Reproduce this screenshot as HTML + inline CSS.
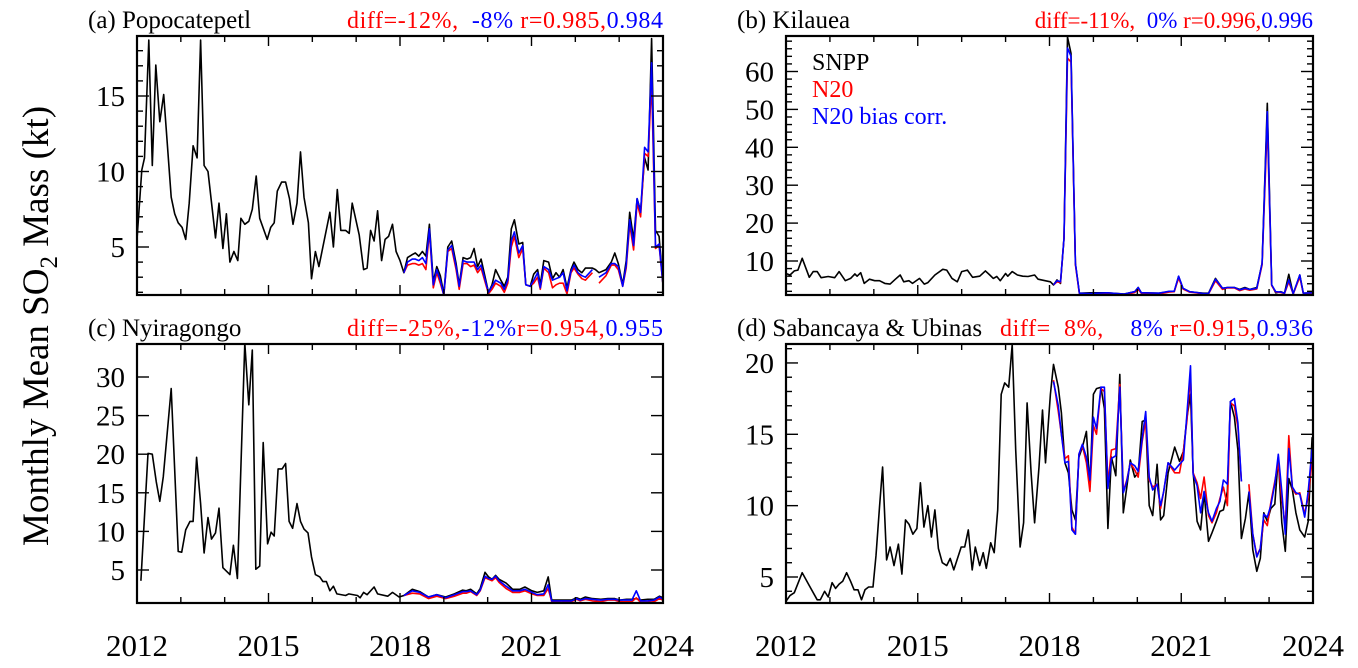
<!DOCTYPE html>
<html><head><meta charset="utf-8"><style>
body{margin:0;background:#fff}
svg{display:block}
text{font-family:"Liberation Serif",serif}
</style></head><body>
<svg id="chart" width="1358" height="668" xmlns="http://www.w3.org/2000/svg">
<text transform="translate(48,326) rotate(-90)" text-anchor="middle" font-size="37">Monthly Mean SO<tspan font-size="25" dy="9">2</tspan><tspan dy="-9"> Mass (kt)</tspan></text>
</svg>
<script>
// ---------- Panel (a) Popocatepetl ----------
const aT=[0,0.11,0.17,0.27,0.35,0.43,0.52,0.61,0.78,0.86,0.94,1.03,1.11,1.19,1.28,1.37,1.45,1.53,1.62,1.79,1.87,1.96,2.04,2.12,2.21,2.30,2.37,2.46,2.55,2.63,2.72,2.80,2.97,3.05,3.13,3.20,3.30,3.39,3.48,3.56,3.65,3.73,3.81,3.91,3.98,4.07,4.15,4.40,4.48,4.57,4.65,4.76,4.84,4.91,5.07,5.17,5.25,5.33,5.41,5.49,5.58,5.66,5.74,5.83,5.91,6.00];
const aSNPP=[5.5,10.1,10.9,18.7,10.4,17.05,13.3,15.1,8.3,7.2,6.6,6.3,5.5,7.9,11.7,10.9,18.7,10.4,10.0,5.6,7.9,4.9,7.2,4.0,4.7,4.1,6.9,6.5,6.7,7.5,9.7,6.9,5.5,6.3,6.6,8.7,9.3,9.3,8.2,6.5,7.9,11.3,8.3,6.6,2.9,4.7,3.7,7.3,5.0,8.8,6.1,6.1,5.9,7.9,5.8,3.5,3.6,6.1,5.4,7.4,4.1,5.5,5.7,6.5,4.7,4.1];
const aT2=[6.09,6.17,6.28,6.35,6.43,6.51,6.59,6.67,6.76,6.84,6.92,7.00,7.09,7.18,7.28,7.35,7.44,7.53,7.61,7.69,7.77,7.85,8.02,8.10,8.18,8.30,8.38,8.46,8.54,8.61,8.71,8.80,8.87,8.97,9.05,9.14,9.20,9.28,9.39,9.48,9.56,9.64,9.72,9.81,9.90,9.97,10.06,10.15,10.23,10.39,10.46,10.54,10.70,10.82,10.90,10.98,11.08,11.16,11.24,11.33,11.41,11.49,11.58,11.66,11.74,11.83,11.91,12.00];
const aSNPP2=[3.3,4.3,4.5,4.6,4.4,4.7,4.4,6.5,2.7,3.7,3.1,1.9,5.0,5.4,3.9,2.5,4.3,4.2,4.3,4.9,3.7,4.2,2.0,2.5,3.5,2.8,2.4,3.0,6.2,6.8,5.2,5.3,2.5,2.4,3.2,3.5,2.5,4.1,4.0,2.9,3.3,3.0,3.5,2.3,3.5,4.0,3.5,3.3,3.6,3.6,3.5,3.3,3.5,4.0,4.6,3.9,2.5,4.1,7.3,5.5,8.2,7.4,10.9,10.1,18.8,6.1,5.7,2.5];
const aN20=[3.3,3.8,3.9,3.9,3.8,3.9,3.5,6.0,2.3,3.3,2.6,1.8,4.7,4.9,3.5,2.2,3.9,3.9,3.7,3.8,3.3,3.6,1.9,2.2,2.6,2.4,2.0,2.6,5.0,5.7,4.3,4.9,2.5,2.4,2.6,3.0,2.2,3.6,3.3,2.3,2.5,2.6,2.6,1.9,3.3,3.6,3.2,2.9,2.8,3.3,null,2.6,3.1,3.8,3.8,3.5,2.4,3.6,6.5,4.8,7.9,7.0,11.2,11.0,16.0,4.9,5.1,2.5];
const aN20c=[3.3,4.0,4.2,4.2,4.1,4.3,3.9,6.2,2.5,3.5,2.8,1.8,4.8,5.1,3.7,2.4,4.1,4.0,4.0,4.0,3.5,3.8,2.0,2.4,2.8,2.6,2.2,2.8,5.4,6.0,4.6,5.1,2.5,2.4,2.8,3.3,2.3,3.7,3.5,2.8,2.9,3.0,3.3,2.1,3.4,3.8,3.3,3.1,3.0,3.5,null,3.0,3.3,3.9,3.9,3.7,2.4,3.8,6.8,5.1,8.2,7.3,11.6,11.3,17.2,5.0,5.2,2.5];
const aTicks=[5,10,15];

// ---------- Panel (b) Kilauea ----------
const bT=[0,0.09,0.19,0.27,0.37,0.53,0.62,0.71,0.80,0.96,1.11,1.21,1.35,1.47,1.57,1.62,1.70,1.78,1.90,2.02,2.13,2.25,2.37,2.49,2.60,2.68,2.80,2.88,3.04,3.15,3.23,3.39,3.57,3.66,3.78,3.90,4.00,4.13,4.25,4.41,4.54,4.64,4.72,4.80,4.88,5.00,5.05,5.15,5.27,5.39,5.51,5.66,5.74,5.90,6.02];
const bSNPP=[6.7,6.3,7.4,7.6,10.7,5.7,7.2,7.2,5.6,5.9,5.6,7.2,4.8,5.4,6.6,6.0,6.9,4.1,5.2,4.8,4.8,4.1,3.9,5.2,6.3,4.5,4.8,4.1,5.4,3.9,4.3,6.3,7.8,7.6,5.4,4.5,7.2,7.6,5.7,6.0,7.4,6.3,5.4,5.9,4.8,6.7,6.0,7.2,6.3,6.0,5.9,6.3,5.2,4.8,4.5];
const bT2=[6.09,6.17,6.25,6.33,6.41,6.49,6.59,6.68,6.92,7.31,7.70,7.94,8.02,8.09,8.49,8.72,8.84,8.94,9.04,9.19,9.35,9.51,9.62,9.78,9.94,10.05,10.21,10.33,10.45,10.56,10.72,10.84,10.96,11.06,11.15,11.27,11.35,11.45,11.55,11.70,11.78,12.00];
const bSNPP2=[3.7,5.0,4.1,16.0,69.1,64.8,9.4,1.5,1.6,1.6,1.3,1.9,3.0,1.6,1.5,1.9,1.9,5.9,2.8,1.9,1.7,1.5,1.5,5.4,2.8,3.0,3.0,2.5,3.0,2.5,3.0,9.4,51.6,3.7,1.6,1.9,1.5,6.5,1.3,6.3,1.5,1.6];
const bN20=[3.7,4.5,4.3,16.0,63.5,62.5,9.0,1.3,1.2,1.4,1.0,1.7,2.5,1.5,1.3,1.8,1.9,5.5,2.6,1.8,1.6,1.2,1.3,4.8,2.5,2.9,2.9,2.2,2.6,2.3,2.6,9.0,46.5,3.5,1.8,1.7,1.4,4.5,1.3,5.8,1.4,1.5];
const bN20c=[3.7,4.8,4.5,16.0,66.2,64.0,9.4,1.5,1.4,1.6,1.3,1.9,3.0,1.6,1.5,2.0,2.0,6.0,2.8,1.9,1.7,1.4,1.4,5.2,2.8,3.0,3.0,2.4,2.8,2.5,2.8,9.4,49.4,3.7,1.9,1.8,1.5,5.0,1.4,6.3,1.5,1.6];
const bTicks=[10,20,30,40,50,60];

// ---------- Panel (c) Nyiragongo ----------
const cT=[0.09,0.25,0.35,0.44,0.52,0.60,0.78,0.94,1.02,1.11,1.21,1.28,1.36,1.45,1.53,1.62,1.70,1.79,1.87,1.96,2.12,2.20,2.29,2.46,2.55,2.63,2.71,2.80,2.88,2.98,3.06,3.13,3.22,3.31,3.39,3.47,3.55,3.65,3.73,3.81,3.90,3.98,4.07,4.17,4.24,4.32,4.40,4.48,4.56,4.76,4.83,5.03,5.09,5.17,5.25,5.41,5.49,5.72,5.83,5.98];
const cSNPP=[3.6,20.1,20.0,16.4,13.9,17.1,28.5,7.4,7.3,10.2,11.3,11.3,19.6,13.6,7.2,11.8,9.0,9.8,13.0,5.3,4.4,8.2,3.9,34.4,26.4,33.5,5.1,5.5,21.5,8.4,9.9,9.4,18.1,18.1,18.8,11.3,10.4,13.6,11.3,10.3,9.8,6.7,4.4,4.1,3.5,3.5,2.3,2.9,1.9,1.7,1.9,1.7,1.4,2.1,1.8,2.8,1.9,1.6,2.1,1.5];
const cT2=[6.09,6.28,6.45,6.65,6.84,7.04,7.24,7.43,7.51,7.61,7.75,7.83,7.94,8.02,8.10,8.18,8.26,8.42,8.57,8.73,8.85,9.01,9.13,9.28,9.38,9.46,9.68,9.91,10.03,10.11,10.23,10.39,10.58,10.74,10.90,11.02,11.17,11.29,11.39,11.49,11.65,11.80,11.92,12.00];
const cSNPP2=[1.7,2.5,2.2,1.5,1.8,1.5,1.9,2.4,2.3,2.5,1.9,2.6,4.7,4.1,3.8,4.3,3.8,3.3,2.5,2.5,2.8,2.3,2.1,2.3,4.1,1.1,1.1,1.1,1.4,1.2,1.5,1.3,1.2,1.3,1.3,1.1,1.2,1.2,1.3,1.1,1.2,1.2,1.6,1.4];
const cN20=[1.7,2.0,1.9,1.3,1.6,1.3,1.6,2.0,2.0,2.2,1.7,2.3,4.0,3.8,3.6,4.0,3.4,2.6,2.1,2.1,2.3,1.9,1.7,1.7,2.6,0.9,0.8,0.9,1.2,1.0,1.2,1.0,0.9,1.1,1.1,0.9,0.9,0.9,1.4,0.8,0.8,0.9,1.3,1.1];
const cN20c=[1.7,2.3,2.1,1.5,1.8,1.4,1.8,2.2,2.2,2.3,1.8,2.4,4.2,3.9,3.8,4.2,3.6,2.9,2.3,2.3,2.5,2.1,1.8,1.9,3.1,1.0,1.0,1.0,1.3,1.1,1.3,1.2,1.1,1.2,1.2,1.1,1.1,1.1,2.3,1.0,1.0,1.1,1.5,1.2];
const cTicks=[5,10,15,20,25,30];

// ---------- Panel (d) Sabancaya & Ubinas ----------
const dT=[0,0.09,0.19,0.37,0.53,0.71,0.78,0.88,0.96,1.05,1.13,1.21,1.29,1.38,1.47,1.55,1.64,1.72,1.80,1.88,1.98,2.05,2.13,2.20,2.29,2.37,2.46,2.56,2.64,2.72,2.80,2.89,2.98,3.06,3.14,3.23,3.31,3.39,3.47,3.56,3.66,3.74,3.82,3.99,4.07,4.15,4.24,4.31,4.41,4.49,4.56,4.66,4.74,4.82,4.90,4.98,5.07,5.15,5.23,5.33,5.41,5.49,5.58,5.66,5.76,5.84,5.91,6.02];
const dSNPP=[3.3,3.7,3.9,5.3,4.4,3.4,3.4,4.0,3.6,4.6,4.2,4.5,4.7,5.3,4.7,4.1,4.1,3.4,4.1,4.3,4.3,6.5,9.9,12.7,6.2,7.1,5.8,7.3,5.2,9.0,8.7,8.0,8.4,11.6,8.5,10.0,7.8,9.7,7.0,6.0,5.8,6.3,5.5,7.1,7.1,8.3,5.5,7.1,5.8,6.7,5.6,7.4,6.7,9.7,17.8,18.6,18.3,21.3,13.9,7.1,8.8,17.2,12.3,8.8,12.7,16.7,13.0,17.8];
const dT2=[6.09,6.20,6.27,6.35,6.43,6.51,6.59,6.67,6.75,6.84,6.92,7.00,7.07,7.17,7.25,7.33,7.41,7.51,7.60,7.68,7.76,7.84,7.94,8.02,8.11,8.19,8.27,8.35,8.45,8.53,8.60,8.70,8.85,8.96,9.05,9.13,9.21,9.27,9.36,9.44,9.52,9.62,9.70,9.80,9.88,9.96,10.05,10.12,10.21,10.29,10.37,10.46,10.54,10.63,10.72,10.80,10.88,10.96,11.04,11.13,11.21,11.29,11.37,11.45,11.53,11.61,11.70,11.81,11.89,11.98];
const dSNPP2=[19.9,18.3,16.5,13.0,12.3,9.7,9.0,13.4,14.1,15.2,11.3,17.8,18.2,18.3,16.8,8.4,13.4,12.1,19.2,9.5,11.3,13.2,12.0,12.3,15.9,16.0,10.0,9.3,12.9,9.0,9.3,12.3,14.1,13.1,13.8,16.2,17.8,12.4,8.9,8.3,10.9,7.5,8.1,8.9,9.6,9.7,11.0,17.3,16.2,13.9,7.7,9.1,10.9,6.9,5.4,6.3,9.5,8.9,9.8,10.1,13.4,8.8,6.8,11.9,11.1,9.5,8.3,7.8,8.9,14.8];
const dN20=[18.8,16.6,15.0,13.3,13.5,8.5,8.0,13.6,14.2,13.0,11.0,15.6,15.0,18.2,18.0,11.5,13.9,14.0,18.5,11.0,11.8,13.0,12.5,12.0,14.5,16.0,11.8,11.3,11.5,9.8,11.0,13.0,12.3,12.3,13.8,16.0,19.2,12.3,11.6,10.5,12.0,9.3,8.8,9.5,10.5,11.3,10.0,17.2,17.0,15.5,11.7,null,11.5,8.0,6.5,7.0,9.0,8.6,10.2,11.7,13.0,10.5,8.5,14.9,11.2,10.8,10.9,9.4,10.6,13.2];
const dN20c=[18.7,17.0,15.0,13.0,13.1,8.3,8.0,13.6,14.3,13.4,11.8,16.2,15.4,18.3,18.3,11.2,13.3,13.5,18.3,10.9,11.7,13.0,12.8,12.4,14.7,16.6,12.0,11.1,11.5,10.0,11.0,13.0,12.5,12.9,13.2,16.5,19.8,12.2,11.4,9.5,11.0,9.5,8.9,9.8,10.3,11.8,11.5,17.3,17.5,15.8,11.7,null,11.0,8.0,6.4,7.0,9.4,9.2,10.0,11.5,13.6,11.0,8.0,14.0,11.3,10.9,10.8,9.2,11.0,14.0];
const dTicks=[5,10,15,20];

const yearTicks=[2012,2013,2014,2015,2016,2017,2018,2019,2020,2021,2022,2023,2024];
const yearLabels=[2012,2015,2018,2021,2024];

const NS='http://www.w3.org/2000/svg';
const svg=document.getElementById('chart');
function mk(tag,attrs,parent){const e=document.createElementNS(NS,tag);for(const k in attrs)e.setAttribute(k,attrs[k]);(parent||svg).appendChild(e);return e;}

const panels=[
 {id:'a',x0:137,x1:663,y0:36,y1:295,yv0:5,yp0:247,ppu:15.1,minor:1,vmin:1.8,vmax:19.1,ticks:aTicks,statW:316,statF:24,
  title:'(a) Popocatepetl',stats:[['diff=-12%,','red'],['  -8%','blue'],[' r=0.985,','red'],['0.984','blue']],
  t:aT,s:aSNPP,t2:aT2,s2:aSNPP2,n:aN20,nc:aN20c},
 {id:'b',x0:786,x1:1313,y0:36,y1:295,yv0:10,yp0:261,ppu:3.79,minor:2,vmin:1,vmax:71,ticks:bTicks,statW:0,statF:23,
  title:'(b) Kilauea',stats:[['diff=-11%,','red'],['  0%','blue'],[' r=0.996,','red'],['0.996','blue']],
  t:bT,s:bSNPP,t2:bT2,s2:bSNPP2,n:bN20,nc:bN20c,legend:true},
 {id:'c',x0:137,x1:663,y0:344,y1:603,yv0:5,yp0:570,ppu:7.72,minor:5,vmin:0.5,vmax:34.5,ticks:cTicks,statW:316,statF:24,
  title:'(c) Nyiragongo',stats:[['diff=-25%,','red'],['-12%','blue'],['r=0.954,','red'],['0.955','blue']],
  t:cT,s:cSNPP,t2:cT2,s2:cSNPP2,n:cN20,nc:cN20c},
 {id:'d',x0:786,x1:1313,y0:344,y1:603,yv0:5,yp0:577,ppu:14.27,minor:1,vmin:3.1,vmax:21.4,ticks:dTicks,statW:313,statF:24,
  title:'(d) Sabancaya & Ubinas',stats:[['diff=  8%,','red'],['    8%','blue'],[' r=0.915,','red'],['0.936','blue']],
  t:dT,s:dSNPP,t2:dT2,s2:dSNPP2,n:dN20,nc:dN20c}
];

panels.forEach(p=>{
  const g=mk('g',{});
  
  
  const xs=t=>p.x0+t*(p.x1-p.x0)/12;
  const ys=v=>p.yp0-(v-p.yv0)*p.ppu;
  const clip=mk('clipPath',{id:'clip'+p.id},g);
  mk('rect',{x:p.x0,y:p.y0,width:p.x1-p.x0,height:p.y1-p.y0},clip);
  function line(ts,vs,color,name){
    let d='',pen=false;
    for(let i=0;i<ts.length;i++){
      if(vs[i]===null||vs[i]===undefined){pen=false;continue;}
      d+=(pen?'L':'M')+xs(ts[i]).toFixed(1)+' '+ys(vs[i]).toFixed(1);pen=true;
    }
    const e=mk('path',{d:d,fill:'none',stroke:color,'stroke-width':1.6,'stroke-linejoin':'round','clip-path':'url(#clip'+p.id+')'},g);
    
    
  }
  line(p.t.concat(p.t2),p.s.concat(p.s2),'#000','snpp-line-'+p.id);
  line(p.t2,p.n,'#ff0000','n20-line-'+p.id);
  line(p.t2,p.nc,'#0000ff','n20-bias-corr-line-'+p.id);
  const fr=mk('rect',{x:p.x0,y:p.y0,width:p.x1-p.x0,height:p.y1-p.y0,fill:'none',stroke:'#000','stroke-width':2.2},g);
  
  
  yearTicks.forEach(yr=>{
    const x=xs(yr-2012);const L=yearLabels.includes(yr)?10:6;
    mk('line',{x1:x,x2:x,y1:p.y1,y2:p.y1-L,stroke:'#000','stroke-width':1.4},g);
    mk('line',{x1:x,x2:x,y1:p.y0,y2:p.y0+L,stroke:'#000','stroke-width':1.4},g);
  });
  if(p.id==='c'||p.id==='d'){
    yearLabels.forEach(yr=>{
      const t=mk('text',{x:xs(yr-2012),y:656,'text-anchor':'middle','font-size':31},g);
      t.textContent=yr;
      
      
    });
  }
  for(let v=Math.ceil(p.vmin/p.minor)*p.minor;v<=p.vmax;v+=p.minor){
    const y=ys(v);if(y<p.y0+1||y>p.y1-1)continue;
    const major=p.ticks.includes(v);const L=major?12:6;
    mk('line',{x1:p.x0,x2:p.x0+L,y1:y,y2:y,stroke:'#000','stroke-width':1.4},g);
    mk('line',{x1:p.x1,x2:p.x1-L,y1:y,y2:y,stroke:'#000','stroke-width':1.4},g);
  }
  p.ticks.forEach(v=>{
    const t=mk('text',{x:p.x0-12,y:ys(v)+10,'text-anchor':'end','font-size':29},g);
    t.textContent=v;
    
    
  });
  const tt=mk('text',{x:p.x0-49,y:p.y0-8,'font-size':25},g);
  tt.textContent=p.title;
  
  
  const sa={y:p.y0-8,'font-size':p.statF,'xml:space':'preserve',style:'white-space:pre'};
  if(p.statW){sa.x=p.x1-p.statW;sa.textLength=p.statW;sa.lengthAdjust='spacing';}
  else{sa.x=p.x1;sa['text-anchor']='end';}
  const st=mk('text',sa,g);
  
  
  p.stats.forEach(s=>{const ts=mk('tspan',{fill:s[1]},st);ts.textContent=s[0];});
  if(p.legend){
    [['SNPP','#000'],['N20','#ff0000'],['N20 bias corr.','#0000ff']].forEach((l,i)=>{
      const e=mk('text',{x:812,y:70+i*27,'font-size':24,fill:l[1]},g);
      e.textContent=l[0];
      
      
    });
  }
});
</script>
</body></html>
